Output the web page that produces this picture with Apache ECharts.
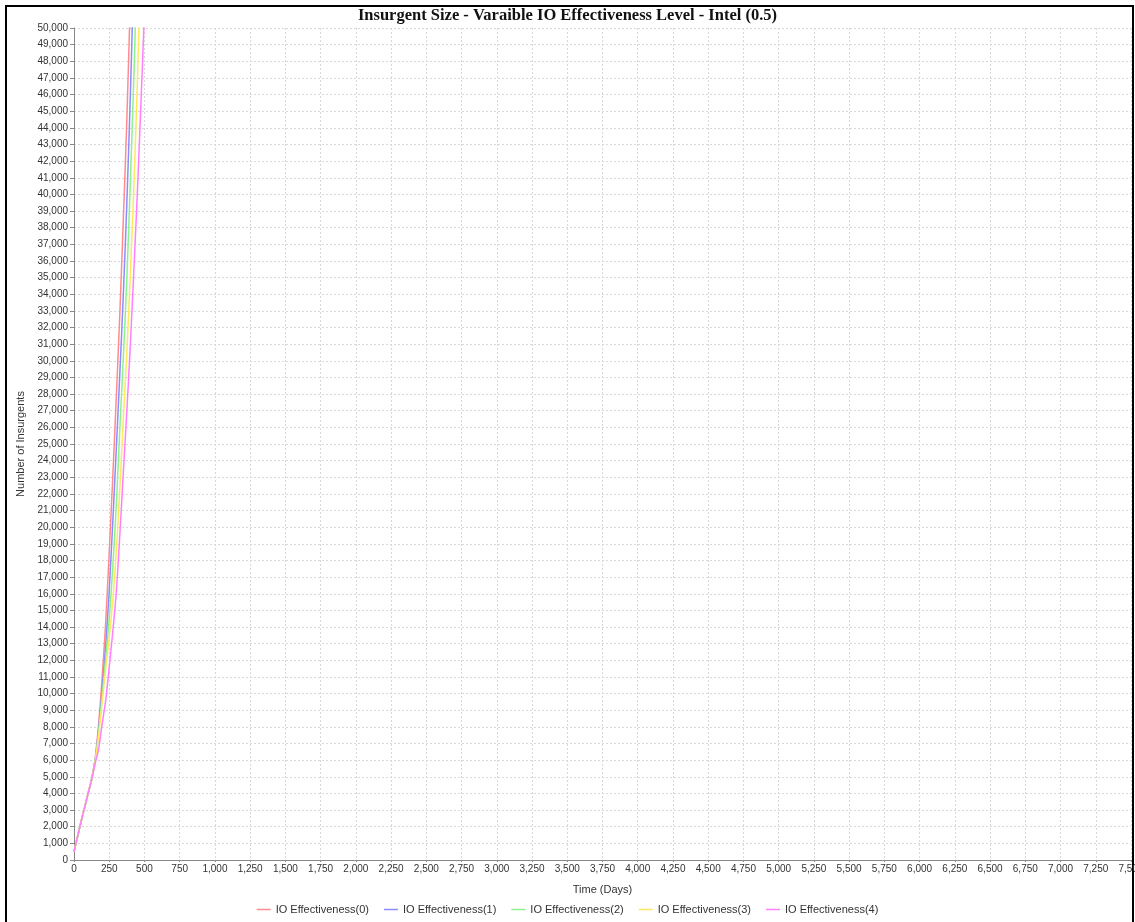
<!DOCTYPE html>
<html>
<head>
<meta charset="utf-8">
<script src="https://cdn.jsdelivr.net/npm/echarts@6/dist/echarts.min.js"></script>
<style>
html,body{margin:0;padding:0;background:#fff;}
#chart{width:1135px;height:922px;}
</style>
</head>
<body>
<div id="chart"></div>
<script>
const titleText = 'Insurgent Size - Varaible IO Effectiveness Level - Intel (0.5)';
const xAxisName = 'Time (Days)';
const yAxisName = 'Number of Insurgents';
const seriesNames = ['IO Effectiveness(0)', 'IO Effectiveness(1)', 'IO Effectiveness(2)', 'IO Effectiveness(3)', 'IO Effectiveness(4)'];
const seriesColors = ['#FF8C8C', '#8C8CFF', '#8CF28C', '#FFE75E', '#FF80FF'];

// Time (days) sample points
const days = [0, 25, 50, 75, 100, 125, 150, 175, 200, 225, 250, 275, 300, 325, 350, 375, 400, 425, 450, 475, 500, 525];

const io0 = [500, 1400, 2300, 3150, 4000, 4900, 6100, 8200, 11000, 14300, 18500, 23000, 27800, 32800, 38500, 44500, 51800, 59000, null, null, null, null];
const io1 = [500, 1400, 2300, 3150, 4000, 4850, 6000, 7900, 10300, 12900, 16200, 20300, 24700, 29200, 34000, 39500, 46000, 53500, 61000, null, null, null];
const io2 = [500, 1400, 2300, 3150, 4000, 4850, 5950, 7700, 9900, 12100, 14500, 17600, 21300, 25900, 30200, 35000, 40800, 47200, 54500, 62000, null, null];
const io3 = [500, 1400, 2300, 3150, 4000, 4800, 5900, 7500, 9500, 11500, 13400, 15600, 18500, 22300, 26500, 30500, 35200, 40500, 46800, 54500, 62000, null];
const io4 = [500, 1400, 2300, 3150, 4000, 4800, 5800, 6700, 8200, 9600, 11600, 13700, 16100, 19500, 23300, 27000, 31000, 35500, 40200, 45500, 51000, 57500];

const allSeries = [io0, io1, io2, io3, io4];

const chart = echarts.init(document.getElementById('chart'));
const fmt = v => Number(v).toLocaleString('en-US');

chart.setOption({
  backgroundColor: '#ffffff',
  animation: false,
  title: {
    text: titleText,
    left: 'center',
    top: 2,
    textStyle: { fontFamily: 'Liberation Serif', fontWeight: 'bold', fontSize: 16.5, color: '#111' }
  },
  grid: { left: 74, right: 4, top: 28, bottom: 62, containLabel: false, outerBoundsMode: 'none' },
  legend: {
    bottom: 2,
    left: 'center',
    icon: 'rect',
    itemWidth: 14,
    itemHeight: 1.5,
    itemGap: 15,
    textStyle: { fontFamily: 'Liberation Sans', fontSize: 11, color: '#333' },
    data: seriesNames
  },
  xAxis: {
    type: 'value',
    min: 0,
    max: 7500,
    interval: 250,
    name: xAxisName,
    nameLocation: 'middle',
    nameGap: 24,
    nameTextStyle: { fontFamily: 'Liberation Sans', fontSize: 11, color: '#333' },
    axisLine: { show: true, lineStyle: { color: '#888' } },
    axisTick: { show: true, length: 2, lineStyle: { color: '#888' } },
    axisLabel: { formatter: fmt, fontFamily: 'Liberation Sans', fontSize: 10, color: '#333', margin: 4 },
    splitLine: { show: true, lineStyle: { color: '#d8d8d8', type: [2, 2], width: 1 } }
  },
  yAxis: {
    type: 'value',
    min: 0,
    max: 50000,
    interval: 1000,
    name: yAxisName,
    nameLocation: 'middle',
    nameGap: 46,
    nameTextStyle: { fontFamily: 'Liberation Sans', fontSize: 11, color: '#333' },
    axisLine: { show: true, lineStyle: { color: '#888' } },
    axisTick: { show: true, length: 4, lineStyle: { color: '#888' } },
    axisLabel: { formatter: fmt, fontFamily: 'Liberation Sans', fontSize: 10, color: '#333', margin: 6 },
    splitLine: { show: true, lineStyle: { color: '#d8d8d8', type: [2, 2], width: 1 } }
  },
  series: seriesNames.map((name, i) => ({
    name: name,
    type: 'line',
    showSymbol: false,
    smooth: 0.3,
    clip: true,
    color: seriesColors[i],
    lineStyle: { width: 1.5, color: seriesColors[i] },
    data: days.map((d, j) => allSeries[i][j] == null ? null : [d, allSeries[i][j]])
  })),
  graphic: [{
    type: 'rect',
    shape: { x: 6, y: 6, width: 1127, height: 940 },
    style: { fill: 'none', stroke: '#000', lineWidth: 2 },
    silent: true
  }]
});
</script>
</body>
</html>
